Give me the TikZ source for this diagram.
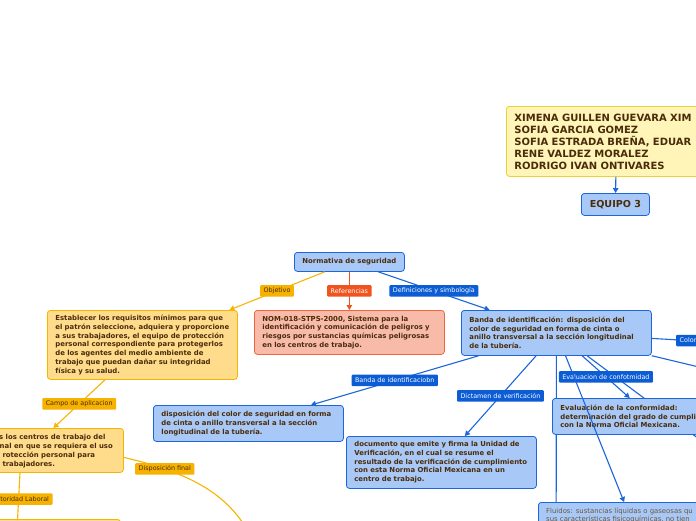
\documentclass[tikz,border=0pt]{standalone}
\usepackage{fontspec}
\setmainfont{DejaVu Sans}
\usetikzlibrary{arrows.meta}
\definecolor{cBfill}{HTML}{A8C9F7}
\definecolor{cBline}{HTML}{1C66DA}
\definecolor{cBlab}{HTML}{0B5CD5}
\definecolor{cOfill}{HTML}{FFDB8C}
\definecolor{cOline}{HTML}{F7B500}
\definecolor{cOlab}{HTML}{F7B200}
\definecolor{cSfill}{HTML}{F9BBA9}
\definecolor{cSline}{HTML}{F0663A}
\definecolor{cSlab}{HTML}{F0541E}
\definecolor{cYfill}{HTML}{FFF5B9}
\definecolor{cYline}{HTML}{EAD232}
\definecolor{cTxt}{HTML}{4A2C0A}
\tikzset{
 box/.style={draw, rounded corners=3pt, line width=0.8pt, anchor=north west, inner xsep=8pt, inner ysep=0pt, align=left, text=cTxt, font=\bfseries\fontsize{6.9}{8.7}\selectfont},
 bbox/.style={box, fill=cBfill, draw=cBline},
 obox/.style={box, fill=cOfill, draw=cOline},
 sbox/.style={box, fill=cSfill, draw=cSline},
 ybox/.style={box, fill=cYfill, draw=cYline},
 conn/.style={line width=1.1pt},
 arr/.style={-{Triangle[length=5pt,width=5.5pt]}},
 bconn/.style={conn, draw=cBline},
 oconn/.style={conn, draw=cOline},
 sconn/.style={conn, draw=cSlab},
 lab/.style={rounded corners=1pt, inner xsep=3.5pt, inner ysep=0pt, minimum height=11.5pt, font=\fontsize{6.4}{7}\selectfont, anchor=center},
 blab/.style={lab, fill=cBlab, text=white},
 olab/.style={lab, fill=cOlab, text=cTxt},
 slab/.style={lab, fill=cSlab, text=white},
 frag/.style={anchor=base west, inner sep=0pt, text=cTxt, font=\bfseries\fontsize{6.9}{8.7}\selectfont},
}
\begin{document}
\begin{tikzpicture}[x=1pt,y=-1pt]
\useasboundingbox (0,0) rectangle (696,520);
\fill[white] (0,0) rectangle (696,520);
\clip (0,0) rectangle (696,520);

% off-screen targets
\coordinate (offA) at (556,640);
\coordinate (offB) at (824,532);
\coordinate (offC) at (956,356);
\coordinate (offD) at (956,428.5);
\coordinate (dispEnd) at (255,545);

\node[bbox, minimum width=190pt, minimum height=45pt, text width=174pt] (banda) at (461,310)
 {Banda de identificación: disposición del\\color de seguridad en forma de cinta o\\anillo transversal a la sección longitudinal\\de la tubería.};

\draw[bconn] (banda) -- (offA);
\draw[bconn] (banda) -- (offB);
\draw[bconn] (banda) -- (offC);
\draw[bconn] (banda) -- (offD);

\node[ybox, minimum width=220pt, minimum height=70pt, text width=204pt, text=cTxt, font=\bfseries\fontsize{10}{12}\selectfont] (names) at (506,106)
 {XIMENA GUILLEN GUEVARA XIM\\SOFIA GARCIA GOMEZ\\SOFIA ESTRADA BREÑA, EDUAR\\RENE VALDEZ MORALEZ\\RODRIGO IVAN ONTIVARES};
\node[bbox, minimum width=68pt, minimum height=22pt, inner xsep=0pt, align=center, font=\bfseries\fontsize{9.6}{11}\selectfont] (equipo) at (581,193) {EQUIPO 3};
\node[bbox, minimum width=110pt, minimum height=19pt, inner xsep=0pt, align=center, font=\bfseries\fontsize{6.9}{8}\selectfont] (norm) at (294,252) {Normativa de seguridad};
\node[obox, minimum width=190pt, minimum height=69pt, text width=174pt] (estab) at (47,310)
 {Establecer los requisitos mínimos para que\\el patrón seleccione, adquiera y proporcione\\a sus trabajadores, el equipo de protección\\personal correspondiente para protegerlos\\de los agentes del medio ambiente de\\trabajo que puedan dañar su integridad\\física y su salud.};
\node[sbox, minimum width=190pt, minimum height=44pt, text width=174pt] (nom) at (254,310)
 {NOM-018-STPS-2000, Sistema para la\\identificación y comunicación de peligros y\\riesgos por sustancias químicas peligrosas\\en los centros de trabajo.};
\node[bbox, minimum width=190pt, minimum height=36pt, text width=174pt] (disp) at (153,405)
 {disposición del color de seguridad en forma\\de cinta o anillo transversal a la sección\\longitudinal de la tubería.};
\node[bbox, minimum width=190pt, minimum height=52pt, text width=174pt] (docu) at (346,436)
 {documento que emite y firma la Unidad de\\Verificación, en el cual se resume el\\resultado de la verificación de cumplimiento\\con esta Norma Oficial Mexicana en un\\centro de trabajo.};
\node[bbox, minimum width=196pt, minimum height=36pt, text width=180pt] (evalc) at (552,398)
 {Evaluación de la conformidad:\\determinación del grado de cumpli\\con la Norma Oficial Mexicana.};
\node[bbox, minimum width=202pt, minimum height=76pt] (fluid) at (538,502) {};
\node[anchor=north west, inner sep=0pt, align=left, text=cTxt!80, font=\fontsize{6.9}{8.7}\selectfont] (fluidtext) at (546,507.5)
 {Fluidos: sustancias líquidas o gaseosas qu\\sus características fisicoquímicas, no tien};

\node[obox, minimum width=188pt, minimum height=44pt] (campo) at (-65,428) {};
\node[frag] (c1) at (-1,439) {s los centros de trabajo del};
\node[frag] (c2) at (-0.5,448) {nal en que se requiera el uso};
\node[frag] (c3) at (2.3,457) {rotección personal para};
\node[frag] (c4) at (2.3,466) {trabajadores.};

\draw[oconn] ([xshift=85pt]campo.south west) -- ([xshift=82pt]campo.south west |- 0,530);
\node[obox, minimum width=180pt, minimum height=40pt] (aut) at (-60,519) {};
\node[olab, anchor=east] (autlab) at (52.7,499) {toridad Laboral};

% connectors
\draw[bconn,arr] (names) -- (equipo);
\draw[oconn,arr] (norm) -- node[olab]{Objetivo} (estab);
\draw[sconn,arr] (norm) -- node[slab]{Referencias} (nom);
\draw[bconn,arr] (norm) -- node[blab]{Definiciones y simbología} (banda);
\draw[bconn,arr] (banda) -- node[blab]{Banda de identificaciobn} (disp);
\draw[bconn,arr] (banda) -- node[blab]{Dictamen de verificación} (docu);
\draw[bconn,arr] (banda) -- node[blab]{Evaluacion de confotmidad} (evalc);
\draw[bconn,arr] (banda) -- (fluid);
\draw[oconn,arr] (estab) -- node[olab]{Campo de aplicacion} (campo);
\draw[oconn] ([yshift=-7pt]campo.east) .. controls (200,475) and (235,500) .. (dispEnd) node[pos=0.2, olab]{Disposición final};
\node[blab, anchor=west] (colorlab) at (676,340.5) {Color\hspace*{12pt}};
\end{tikzpicture}
\end{document}
